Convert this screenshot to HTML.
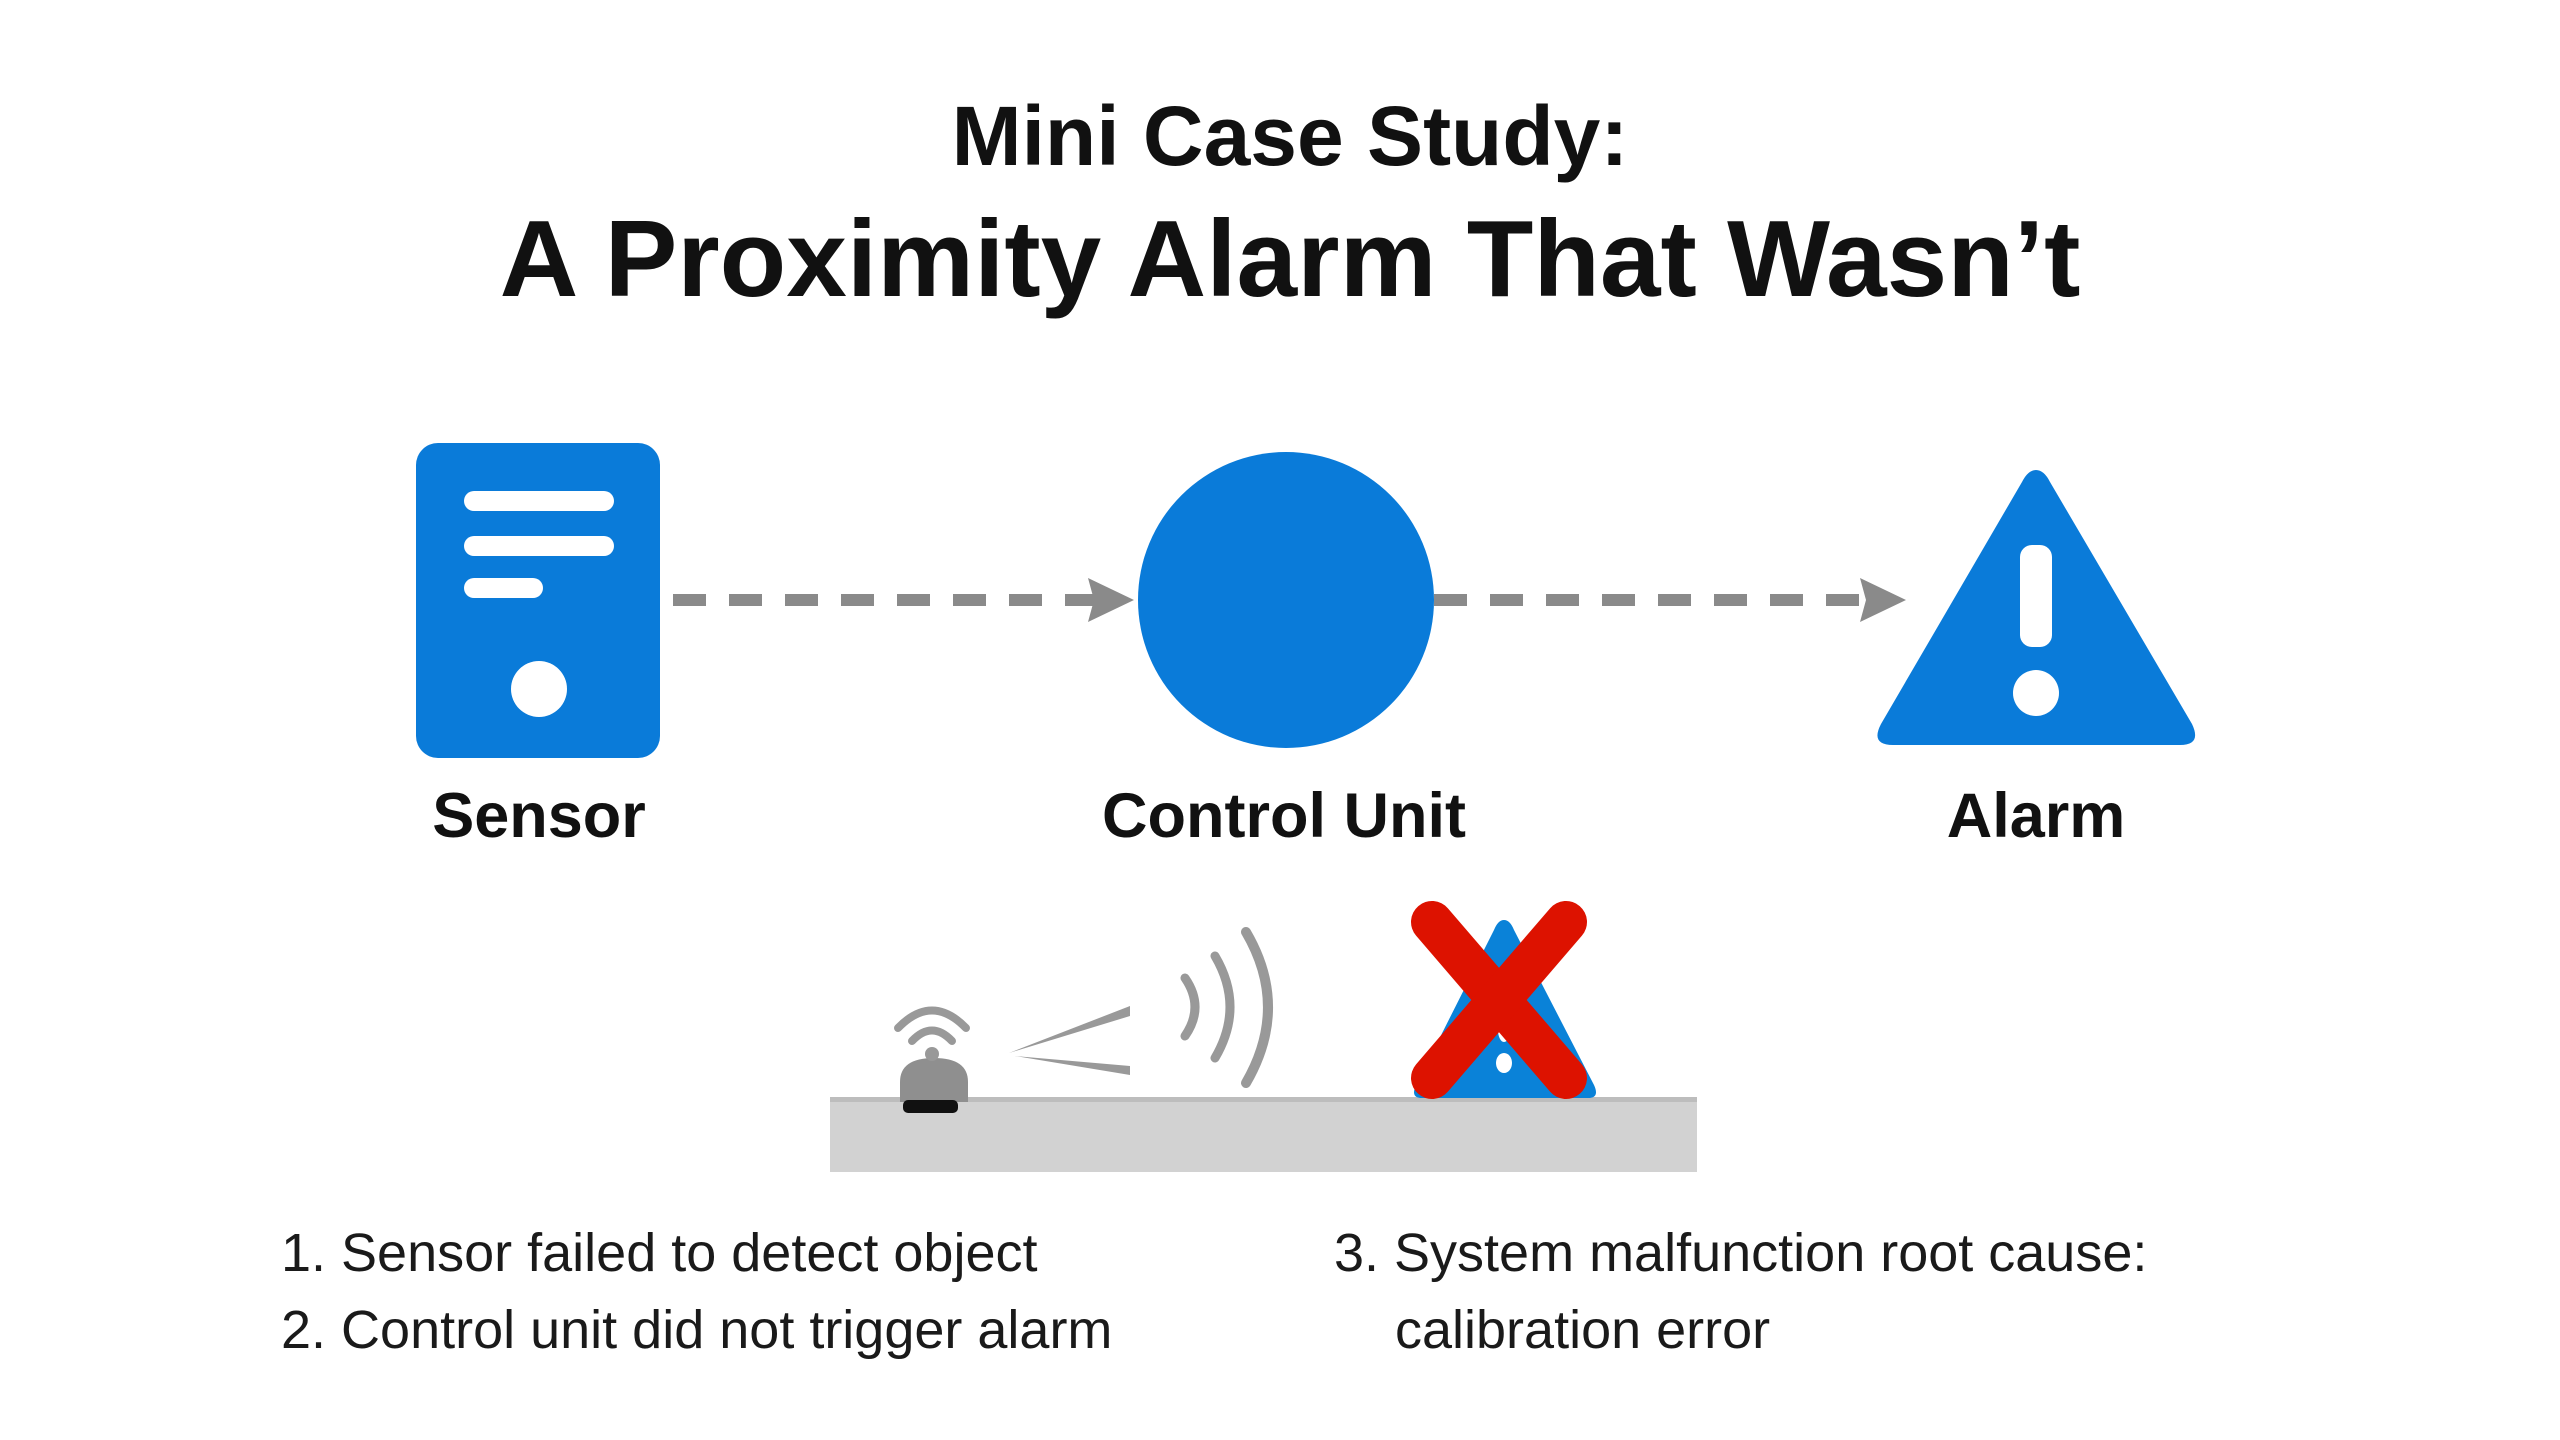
<!DOCTYPE html>
<html><head><meta charset="utf-8"><style>
html,body{margin:0;padding:0;background:#fff;}
body{width:2560px;height:1440px;overflow:hidden;position:relative;font-family:"Liberation Sans",sans-serif;}
.t{position:absolute;white-space:nowrap;color:#111;}
</style></head><body>
<svg width="2560" height="1440" style="position:absolute;left:0;top:0">
<rect x="416" y="443" width="244" height="315" rx="22" fill="#0a7bd9"/>
<rect x="464" y="491" width="150" height="20" rx="10" fill="#fff"/>
<rect x="464" y="536" width="150" height="20" rx="10" fill="#fff"/>
<rect x="464" y="578" width="79" height="20" rx="10" fill="#fff"/>
<circle cx="539" cy="689" r="28" fill="#fff"/>
<line x1="673" y1="600" x2="1095" y2="600" stroke="#8a8a8a" stroke-width="12" stroke-dasharray="33 23"/>
<polygon points="1088,578 1134,600 1088,622 1094,600" fill="#8a8a8a"/>
<line x1="1434" y1="600" x2="1868" y2="600" stroke="#8a8a8a" stroke-width="12" stroke-dasharray="33 23"/>
<polygon points="1860,578 1906,600 1860,622 1866,600" fill="#8a8a8a"/>
<ellipse cx="1286" cy="600" rx="148" ry="148" fill="#0a7bd9"/>
<path d="M2036,470 Q2044,470 2050,482 L2192,724 Q2202,745 2180,745 L1893,745 Q1870,745 1881,724 L2022,482 Q2028,470 2036,470 Z" fill="#0a7bd9"/>
<rect x="2020" y="545" width="32" height="102" rx="12" fill="#fff"/>
<circle cx="2036" cy="693" r="23" fill="#fff"/>
<rect x="830" y="1097" width="867" height="75" fill="#d2d2d2"/>
<rect x="830" y="1097" width="867" height="5" fill="#bdbdbd"/>
<path d="M1504,920 Q1510,920 1514,930 L1594,1085 Q1600,1098 1588,1098 L1422,1098 Q1410,1098 1416,1085 L1494,930 Q1498,920 1504,920 Z" fill="#0a82d8"/>
<ellipse cx="1504" cy="1030" rx="6" ry="12" fill="#fff"/>
<ellipse cx="1504" cy="1063" rx="8" ry="10" fill="#fff"/>
<line x1="1432" y1="922" x2="1566" y2="1078" stroke="#dd1200" stroke-width="42" stroke-linecap="round"/>
<line x1="1566" y1="922" x2="1432" y2="1078" stroke="#dd1200" stroke-width="42" stroke-linecap="round"/>
<path d="M900,1102 L900,1082 Q900,1058 934,1058 Q968,1058 968,1082 L968,1102 Z" fill="#8f8f8f"/>
<rect x="903" y="1100" width="55" height="13" rx="5" fill="#111"/>
<circle cx="932" cy="1054" r="7" fill="#999"/>
<path d="M912,1041 Q932,1020 952,1041" stroke="#999" stroke-width="8" fill="none" stroke-linecap="round"/>
<path d="M898,1028 Q932,993 966,1028" stroke="#999" stroke-width="8" fill="none" stroke-linecap="round"/>
<polygon points="1009,1053 1130,1006 1130,1016" fill="#999"/>
<polygon points="1015,1056 1130,1066 1130,1075" fill="#999"/>
<path d="M1185,978 Q1205,1007 1185,1036" stroke="#999" stroke-width="9" fill="none" stroke-linecap="round"/>
<path d="M1215,956 Q1245,1007 1215,1058" stroke="#999" stroke-width="9" fill="none" stroke-linecap="round"/>
<path d="M1246,932 Q1290,1007 1246,1083" stroke="#999" stroke-width="10" fill="none" stroke-linecap="round"/>
</svg>
<div class="t" style="left:0;width:2580px;text-align:center;top:88px;font-size:84px;font-weight:bold;">Mini Case Study:</div>
<div class="t" style="left:0;width:2580px;text-align:center;top:196px;font-size:109px;font-weight:bold;">A Proximity Alarm That Wasn’t</div>
<div class="t" style="left:339px;width:400px;text-align:center;top:780px;font-size:63px;font-weight:bold;">Sensor</div>
<div class="t" style="left:1084px;width:400px;text-align:center;top:780px;font-size:63px;font-weight:bold;">Control Unit</div>
<div class="t" style="left:1836px;width:400px;text-align:center;top:780px;font-size:63px;font-weight:bold;">Alarm</div>
<div class="t" style="left:281px;top:1215px;font-size:54px;line-height:77px;color:#1a1a1a;">1. Sensor failed to detect object<br>2. Control unit did not trigger alarm</div>
<div class="t" style="left:1334px;top:1215px;font-size:54px;line-height:77px;color:#1a1a1a;">3. System malfunction root cause:<br><span style="padding-left:61px">calibration error</span></div>
</body></html>
